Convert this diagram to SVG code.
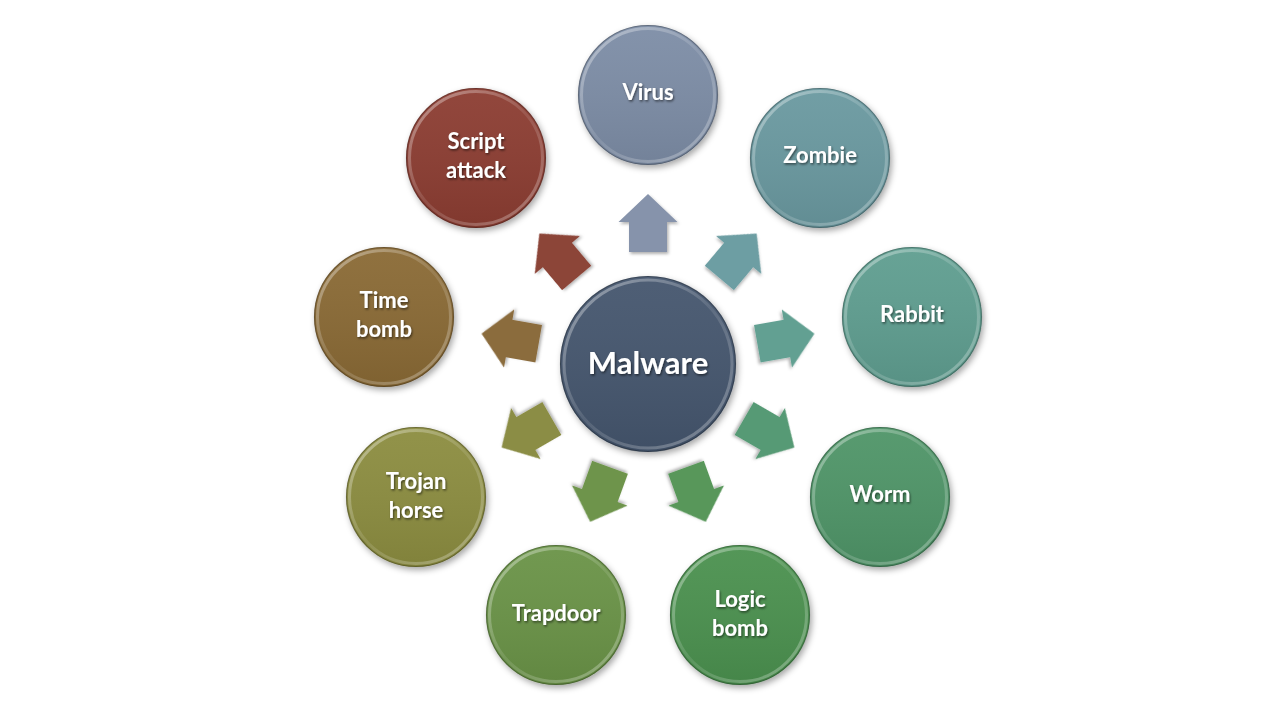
<svg xmlns="http://www.w3.org/2000/svg" width="1279" height="720" viewBox="0 0 1279 720">
<style>
.lbl{fill:#ffffff;font-family:"Lato","Open Sans","Liberation Sans",sans-serif;font-weight:bold;font-size:22px;text-anchor:middle;filter:url(#tsh)}
.big{font-size:31px}
.shade{fill:url(#shade)}
.rim{fill:none;stroke:url(#rim);stroke-width:3}
.edge{fill:none;stroke:#000;stroke-opacity:0.25;stroke-width:1.2}
.arr{filter:url(#ash)}
</style>
<defs>
<filter id="sh" x="-20%" y="-20%" width="150%" height="150%">
<feDropShadow dx="2" dy="3" stdDeviation="3" flood-color="#000" flood-opacity="0.35"/>
</filter>
<filter id="ash" x="-30%" y="-30%" width="160%" height="160%">
<feDropShadow dx="1.5" dy="2" stdDeviation="1.5" flood-color="#000" flood-opacity="0.3"/>
</filter>
<filter id="tsh" x="-20%" y="-30%" width="140%" height="160%">
<feDropShadow dx="1" dy="1.5" stdDeviation="0.8" flood-color="#000" flood-opacity="0.55"/>
</filter>
<linearGradient id="shade" x1="0" y1="0" x2="0" y2="1">
<stop offset="0" stop-color="#fff" stop-opacity="0.05"/>
<stop offset="1" stop-color="#000" stop-opacity="0.08"/>
</linearGradient>
<linearGradient id="rim" x1="0.15" y1="0.1" x2="0.85" y2="0.9">
<stop offset="0" stop-color="#fff" stop-opacity="0.35"/>
<stop offset="0.5" stop-color="#fff" stop-opacity="0.1"/>
<stop offset="1" stop-color="#fff" stop-opacity="0.28"/>
</linearGradient>
<path id="ar" d="M0,-169 L29.5,-141 L19,-141 L19,-111 L-19,-111 L-19,-141 L-29.5,-141 Z"/>
</defs>
<rect width="1279" height="720" fill="#ffffff"/>

<g id="connectors" transform="translate(648,363)">
<use href="#ar" class="arr" fill="#8693ab" transform="rotate(0)"/>
<use href="#ar" class="arr" fill="#6d9ea3" transform="rotate(40)"/>
<use href="#ar" class="arr" fill="#62a092" transform="rotate(80)"/>
<use href="#ar" class="arr" fill="#579a74" transform="rotate(120)"/>
<use href="#ar" class="arr" fill="#58975a" transform="rotate(160)"/>
<use href="#ar" class="arr" fill="#6e944c" transform="rotate(200)"/>
<use href="#ar" class="arr" fill="#8b8d45" transform="rotate(240)"/>
<use href="#ar" class="arr" fill="#8b6c3e" transform="rotate(280)"/>
<use href="#ar" class="arr" fill="#8c4438" transform="rotate(320)"/>
</g>

<g id="malware" transform="translate(648,364)">
<circle r="88" fill="#44566e" filter="url(#sh)"/>
<circle r="88" class="shade"/>
<circle r="84" class="rim"/>
<circle r="87.5" class="edge"/>
<text class="lbl big" y="10">Malware</text>
</g>

<g id="virus" transform="translate(648,95)">
<circle r="70" fill="#7d8da6" filter="url(#sh)"/>
<circle r="70" class="shade"/>
<circle r="66.5" class="rim"/>
<circle r="69.5" class="edge"/>
<text class="lbl" y="5">Virus</text>
</g>

<g id="zombie" transform="translate(820,158)">
<circle r="70" fill="#6a99a0" filter="url(#sh)"/>
<circle r="70" class="shade"/>
<circle r="66.5" class="rim"/>
<circle r="69.5" class="edge"/>
<text class="lbl" y="5">Zombie</text>
</g>

<g id="rabbit" transform="translate(912,317)">
<circle r="70" fill="#5f9e90" filter="url(#sh)"/>
<circle r="70" class="shade"/>
<circle r="66.5" class="rim"/>
<circle r="69.5" class="edge"/>
<text class="lbl" y="5">Rabbit</text>
</g>

<g id="worm" transform="translate(880,497)">
<circle r="70" fill="#4f9568" filter="url(#sh)"/>
<circle r="70" class="shade"/>
<circle r="66.5" class="rim"/>
<circle r="69.5" class="edge"/>
<text class="lbl" y="5">Worm</text>
</g>

<g id="logic-bomb" transform="translate(740,615)">
<circle r="70" fill="#4b9150" filter="url(#sh)"/>
<circle r="70" class="shade"/>
<circle r="66.5" class="rim"/>
<circle r="69.5" class="edge"/>
<text class="lbl" y="-8">Logic</text>
<text class="lbl" y="21">bomb</text>
</g>

<g id="trapdoor" transform="translate(556,615)">
<circle r="70" fill="#6a9346" filter="url(#sh)"/>
<circle r="70" class="shade"/>
<circle r="66.5" class="rim"/>
<circle r="69.5" class="edge"/>
<text class="lbl" y="6">Trapdoor</text>
</g>

<g id="trojan-horse" transform="translate(416,497)">
<circle r="70" fill="#8c8d3f" filter="url(#sh)"/>
<circle r="70" class="shade"/>
<circle r="66.5" class="rim"/>
<circle r="69.5" class="edge"/>
<text class="lbl" y="-8">Trojan</text>
<text class="lbl" y="21">horse</text>
</g>

<g id="time-bomb" transform="translate(384,317)">
<circle r="70" fill="#8a6a36" filter="url(#sh)"/>
<circle r="70" class="shade"/>
<circle r="66.5" class="rim"/>
<circle r="69.5" class="edge"/>
<text class="lbl" y="-9">Time</text>
<text class="lbl" y="20">bomb</text>
</g>

<g id="script-attack" transform="translate(476,158)">
<circle r="70" fill="#8c3e33" filter="url(#sh)"/>
<circle r="70" class="shade"/>
<circle r="66.5" class="rim"/>
<circle r="69.5" class="edge"/>
<text class="lbl" y="-9">Script</text>
<text class="lbl" y="20">attack</text>
</g>
</svg>
